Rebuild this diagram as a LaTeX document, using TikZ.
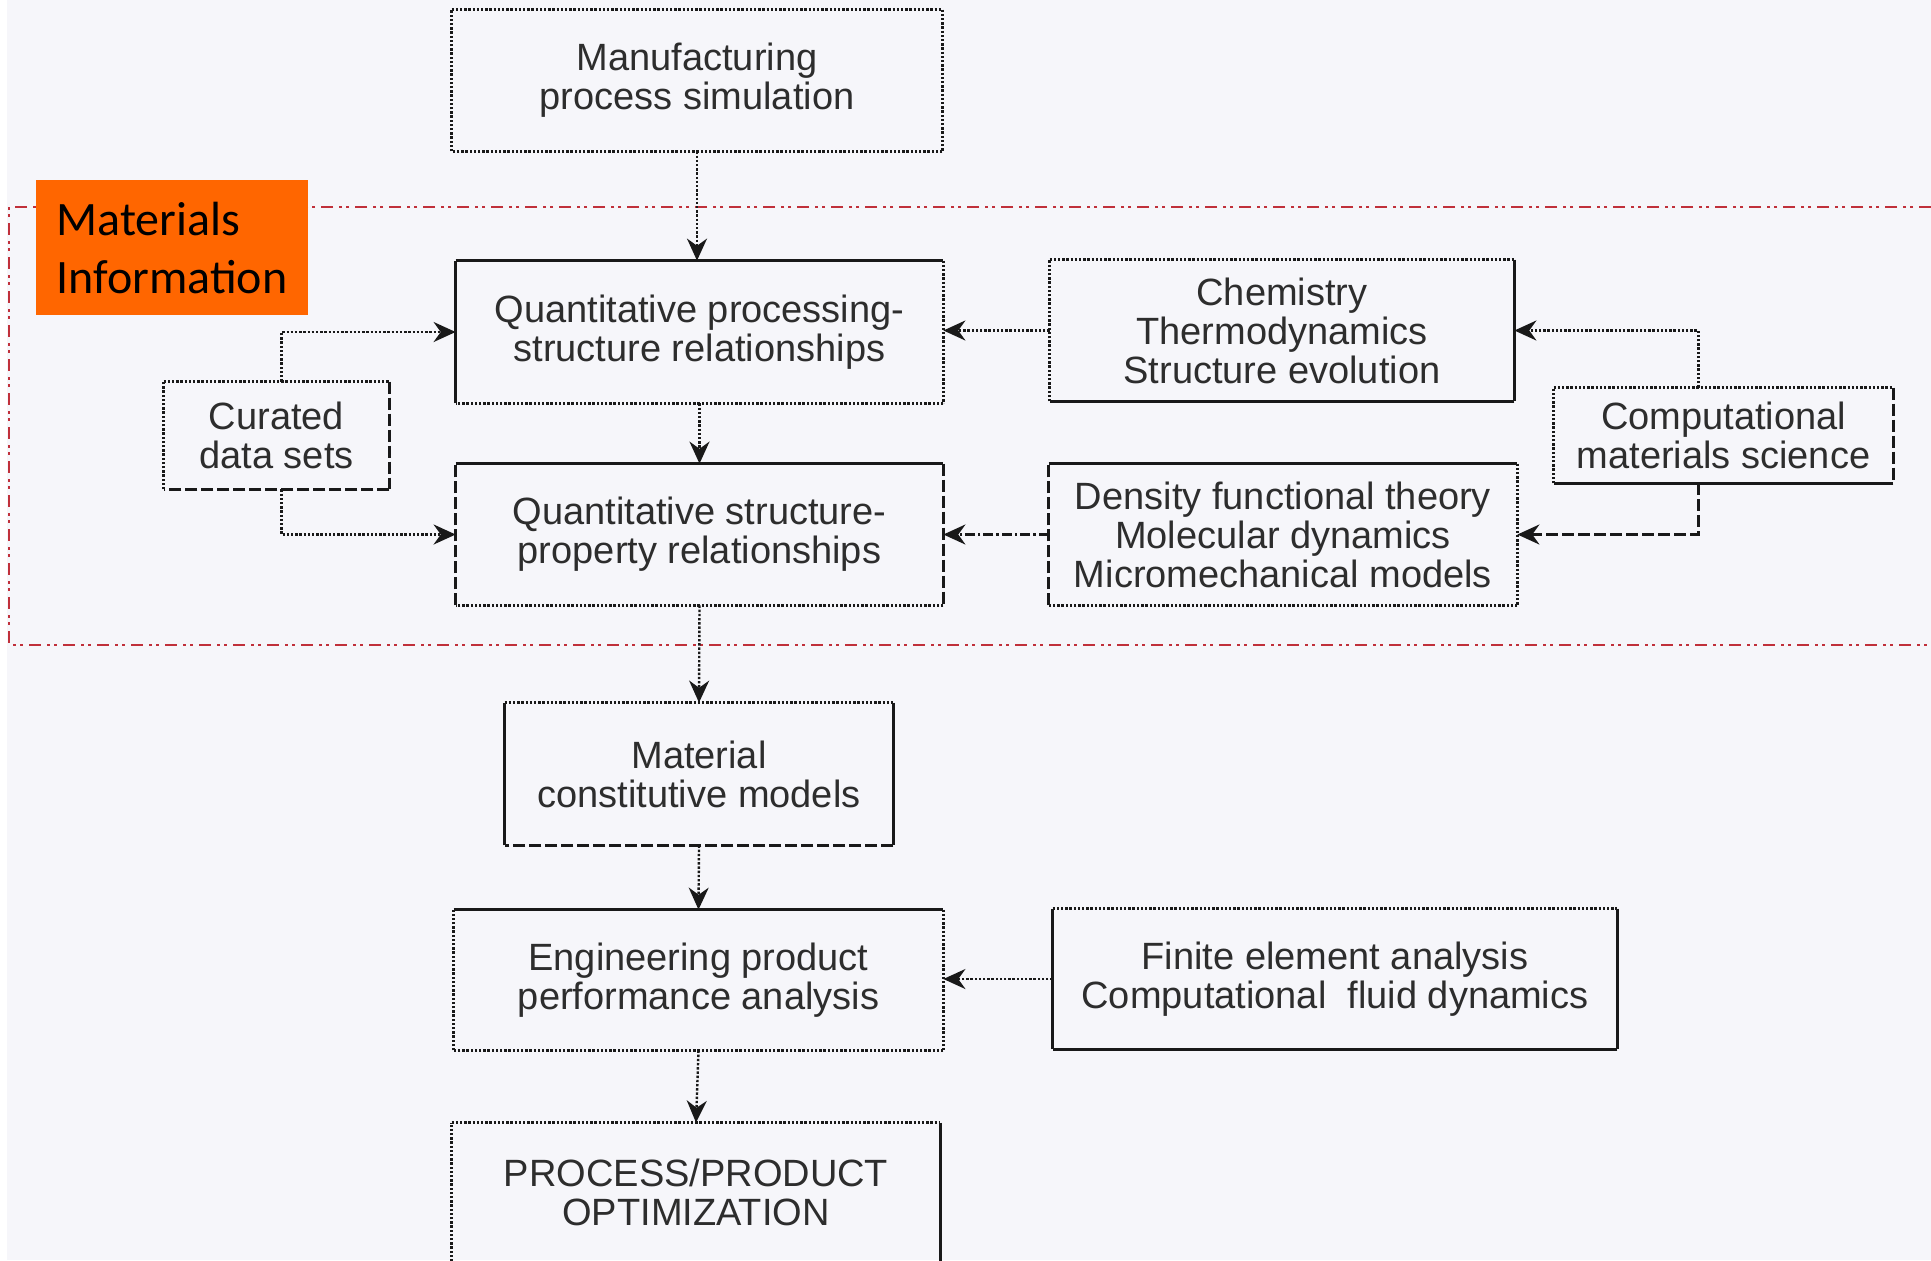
\documentclass[tikz,border=0pt]{standalone}
\usepackage{fontspec}
\setmainfont{Liberation Sans}
\newfontfamily\calib{Carlito}
\usetikzlibrary{arrows.meta}
\definecolor{bg}{RGB}{246,246,250}
\definecolor{redl}{RGB}{192,48,58}
\definecolor{orng}{RGB}{255,102,0}
\definecolor{txt}{RGB}{45,45,45}
\definecolor{ln}{RGB}{25,25,25}
\newcommand\boxsides[5]{%
 \draw[#2] (#1.north west) -- (#1.north east);
 \draw[#3] (#1.north east) -- (#1.south east);
 \draw[#4] (#1.south east) -- (#1.south west);
 \draw[#5] (#1.south west) -- (#1.north west);}
\begin{document}
\begin{tikzpicture}[x=0.5pt,y=-0.5pt,
  bx/.style={inner sep=0pt, align=center, font=\fontsize{19}{19.5}\selectfont, text=txt},
  sol/.style={line width=1.2pt, ln},
  dot/.style={line width=1.2pt, ln, dash pattern=on 1.2pt off 0.9pt},
  dsh/.style={line width=1.2pt, ln, dash pattern=on 6pt off 2pt},
  dshd/.style={line width=1.2pt, ln, dash pattern=on 5pt off 1.5pt on 1.2pt off 1.5pt},
  nod/.style={draw=none},
  arr/.style={-{Stealth[length=11pt,width=10pt]}},
]
\useasboundingbox (0,0) rectangle (1931,1260);
\fill[bg] (0,0) rectangle (1931,1260);
\fill[white] (0,0) rectangle (7,1260);
% materials information region
\draw[redl, line width=1.3pt, dash pattern=on 6pt off 3pt on 1.5pt off 2pt on 1.5pt off 3pt]
  (1931,207) -- (9,207) -- (9,645) -- (1931,645);
\node[fill=orng, minimum width=136pt, minimum height=67.5pt, inner sep=0pt, align=left,
  font=\calib\fontsize{24}{29}\selectfont] (mi) at (172,247.5) {Materials\\Information};
% boxes
\node[bx, minimum width=245pt, minimum height=70.5pt] (manu) at (697,80.5) {Manufacturing\\process simulation};
\node[bx, minimum width=243.5pt, minimum height=71pt] (qps) at (699.5,332) {Quantitative processing-\\structure relationships};
\node[bx, minimum width=232pt, minimum height=70.5pt] (chem) at (1282,330.5) {Chemistry\\Thermodynamics\\Structure evolution};
\node[bx, minimum width=112.5pt, minimum height=53.5pt] (cur) at (276.5,435.5) {Curated\\data sets};
\node[bx, minimum width=169.5pt, minimum height=47.5pt] (comp) at (1723.5,435.5) {Computational\\materials science};
\node[bx, minimum width=243.5pt, minimum height=70.5pt] (qsp) at (699.5,534.5) {Quantitative structure-\\property relationships};
\node[bx, minimum width=234pt, minimum height=70.5pt] (dft) at (1283,534.5) {Density functional theory\\Molecular dynamics\\Micromechanical models};
\node[bx, minimum width=194pt, minimum height=71pt] (mat) at (699,774) {Material\\constitutive models};
\node[bx, minimum width=244.5pt, minimum height=70pt] (eng) at (698.5,980) {Engineering product\\performance analysis};
\node[bx, minimum width=282pt, minimum height=70pt] (fin) at (1335,979) {Finite element analysis\\Computational\ \ fluid dynamics};
\node[bx, minimum width=244pt, minimum height=69pt] (proc) at (696,1192) {PROCESS/PRODUCT\\OPTIMIZATION};
% box borders (top, right, bottom, left)
\boxsides{manu}{dot}{dot}{dot}{dot}
\boxsides{qps}{sol}{dot}{dot}{sol}
\boxsides{chem}{dot}{sol}{sol}{dot}
\boxsides{cur}{dot}{dsh}{dsh}{dot}
\boxsides{comp}{dot}{dsh}{sol}{dot}
\boxsides{qsp}{sol}{dsh}{dot}{dsh}
\boxsides{dft}{sol}{dot}{dot}{dsh}
\boxsides{mat}{dot}{sol}{dsh}{sol}
\boxsides{eng}{sol}{dot}{dot}{dot}
\boxsides{fin}{dot}{sol}{sol}{sol}
\boxsides{proc}{dot}{sol}{nod}{dot}
% connectors
\draw[dot, arr] (manu.south) -- (manu.south |- qps.north);
\draw[dot, arr] (qps.south) -- (qsp.north);
\draw[dot, arr] (qsp.south) -- (mat.north);
\draw[dot, arr] (mat.south) -- (eng.north);
\draw[dot, arr] (eng.south) -- (proc.north);
\draw[dot, arr] (chem.west) -- (chem.west -| qps.east);
\draw[dshd, arr] (dft.west) -- (qsp.east);
\draw[dot, arr] (fin.west) -- (fin.west -| eng.east);
\draw[dot, arr] ([xshift=2.5pt]cur.north) |- (qps.west);
\draw[dot, arr] ([xshift=2.5pt]cur.south) |- (qsp.west);
\draw[dot, arr] ([xshift=-12.5pt]comp.north) |- (chem.east);
\draw[dsh, arr] ([xshift=-12.5pt]comp.south) |- (dft.east);
\end{tikzpicture}
\end{document}
